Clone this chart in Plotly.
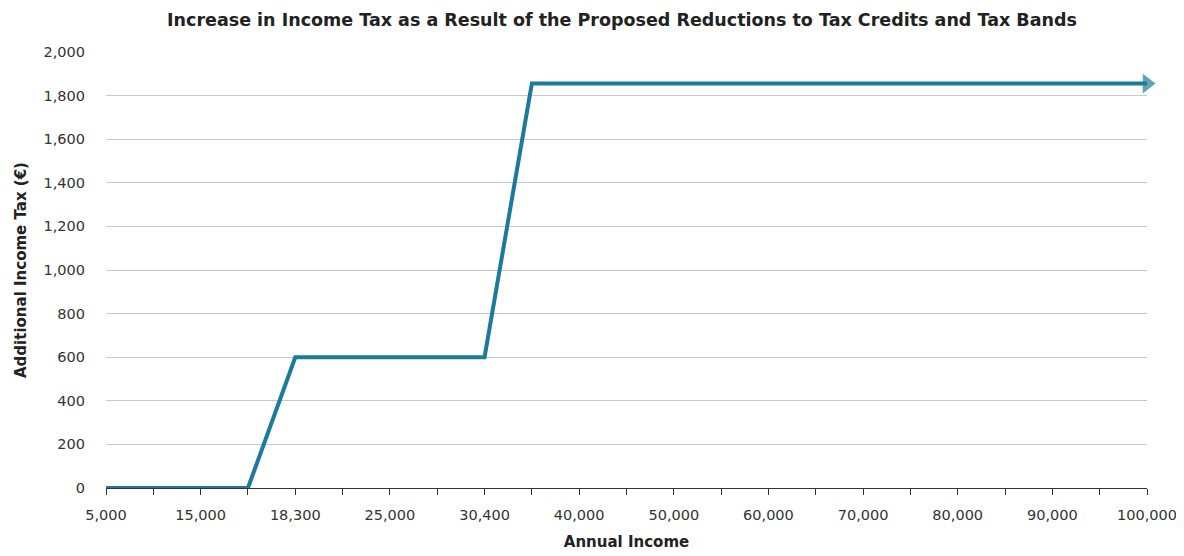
import plotly.graph_objects as go

# Category tick labels on the x axis (evenly spaced categories)
tick_labels = ["5,000", "15,000", "18,300", "25,000", "30,400", "40,000",
               "50,000", "60,000", "70,000", "80,000", "90,000", "100,000"]
# Line vertices, expressed as positions along the category axis
line_pos = [0, 1.5, 2, 4, 4.5, 11]
extra_tax = [0, 0, 600, 600, 1855, 1855]

FONT = "DejaVu Sans, Liberation Sans, Arial, sans-serif"
LINE_COLOR = "#1c7a9b"
W, H = 1184, 556

n = len(line_pos)
fig = go.Figure()
fig.add_trace(go.Scatter(
    x=line_pos, y=extra_tax, mode="lines+markers",
    line=dict(color=LINE_COLOR, width=4),
    marker=dict(symbol=["circle"] * (n - 1) + ["triangle-up"],
                size=[0] * (n - 1) + [17],
                angleref="previous", color=LINE_COLOR,
                line=dict(width=0)),
    cliponaxis=False, hoverinfo="skip", showlegend=False,
))

fig.update_layout(
    width=W, height=H,
    margin=dict(l=95, r=45, t=44, b=76),
    paper_bgcolor="white", plot_bgcolor="white",
    font=dict(family=FONT, size=14, color="#333333"),
    title=dict(text="<b>Increase in Income Tax as a Result of the Proposed Reductions to Tax Credits and Tax Bands</b>",
               x=614 / W, xanchor="center", y=1 - 12 / H, yanchor="middle",
               font=dict(family=FONT, size=17.5, color="#222222")),
    xaxis=dict(
        range=[0, len(tick_labels) - 1],
        tickvals=list(range(len(tick_labels))), ticktext=tick_labels,
        showgrid=False, zeroline=False,
        showline=True, linecolor="#333333", linewidth=1,
        ticks="outside", ticklen=6, tickcolor="#333333",
        minor=dict(dtick=0.5, tick0=0, ticks="outside", ticklen=6, tickcolor="#333333", showgrid=False),
        tickfont=dict(size=14.5, color="#333333"),
        ticklabelstandoff=8,
        title=dict(text="<b>Annual Income</b>", font=dict(size=15, color="#222222"), standoff=14),
        fixedrange=True,
    ),
    yaxis=dict(
        range=[0, 2000], dtick=200, tickformat=",d",
        showgrid=True, gridcolor="#c8c8c8", gridwidth=1,
        zeroline=False, showline=False,
        ticks="", ticklen=0,
        tickfont=dict(size=14.5, color="#333333"),
        ticklabelstandoff=20,
        title=dict(text="<b>Additional Income Tax (€)</b>", font=dict(size=15, color="#222222"), standoff=13),
        fixedrange=True,
    ),
)

fig.write_html("out.html")
